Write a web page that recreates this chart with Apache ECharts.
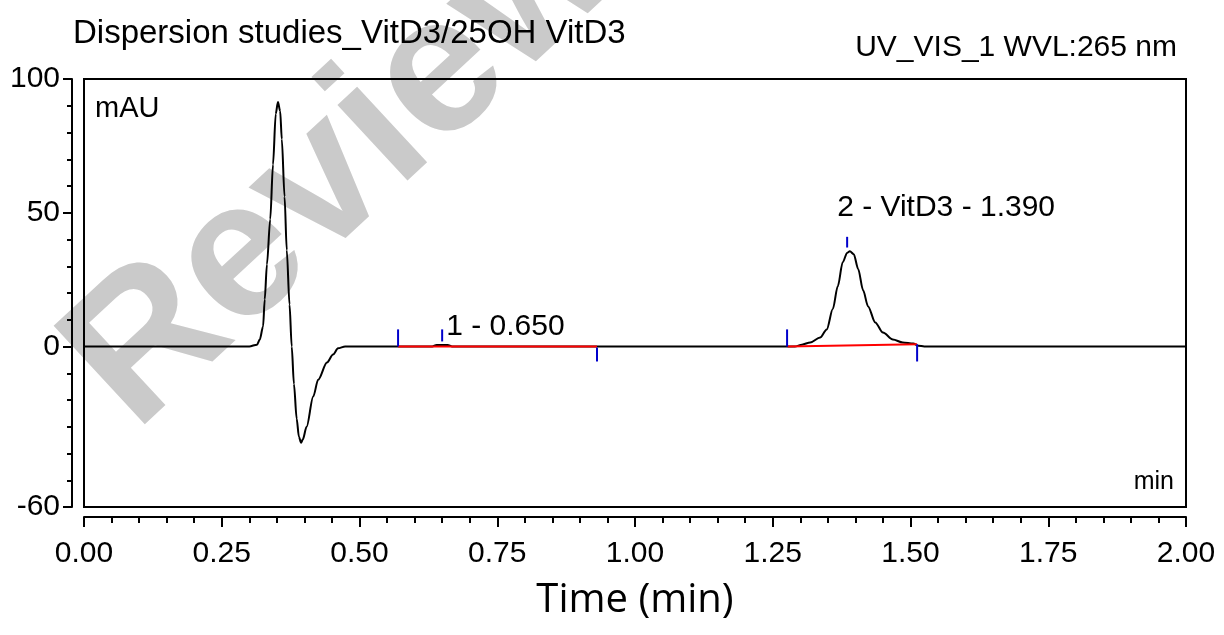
<!DOCTYPE html>
<html>
<head>
<meta charset="utf-8">
<script src="https://cdn.jsdelivr.net/npm/echarts@6/dist/echarts.min.js"></script>
<style>
html, body { margin: 0; padding: 0; background: #fff; }
#main { width: 1224px; height: 635px; }
</style>
</head>
<body>
<div id="main"></div>
<script>
// chromatogram trace, time in min / signal in mAU
var timeMin = [0, 0.300, 0.314, 0.319, 0.325, 0.328, 0.332, 0.338, 0.343, 0.348, 0.352, 0.356, 0.359, 0.364,
    0.368, 0.373, 0.377, 0.381, 0.386, 0.390, 0.394, 0.397, 0.404, 0.416, 0.425, 0.441, 0.452, 0.461, 0.474,
    0.632, 0.640, 0.660, 0.668,
    1.290, 1.303, 1.318, 1.336, 1.348, 1.359, 1.368, 1.377, 1.385, 1.390, 1.397, 1.405, 1.414, 1.423, 1.436,
    1.450, 1.468, 1.486, 1.505, 1.514, 1.525, 2.0];
var signalMau = [0, 0, 0.7, 2.6, 7.5, 17.6, 30.7, 47.6, 68, 87, 91.4, 88, 77.5, 56,
    36, 15.7, 0, -14, -27, -33.7, -36, -34.8, -30, -18.7, -12.4, -6, -3, -0.7, 0,
    0, 0.6, 0.6, 0,
    0, 0.7, 1.5, 3.4, 6.4, 14, 22.5, 31.5, 35, 35.6, 34.5, 29, 21, 15, 9,
    5.2, 2.6, 1.5, 1.1, 0.3, 0, 0];

// integration baselines [t0, v0, t1, v1]
var baselines = [[0.570, 0, 0.931, 0], [1.277, 0, 1.512, 0.8]];
// peak delimiters [t, from, to]
var delimiters = [[0.570, 0, 6.4], [0.650, 1.9, 6.4], [0.931, -0.4, -5.6],
    [1.276, 0, 6.4], [1.385, 37, 41], [1.512, 0.8, -5.6]];
// peak labels [t, value, text]
var peakLabels = [[0.650, 6.4, '1 - 0.650'], [1.385, 41, '2 - VitD3 - 1.390']];

var xMajor = [0, 0.25, 0.5, 0.75, 1.0, 1.25, 1.5, 1.75, 2.0];
var yMajor = [-60, 0, 50, 100];

var font = 'Liberation Sans, Arial, sans-serif';
var myChart = echarts.init(document.getElementById('main'));

var trace = [];
for (var i = 0; i < timeMin.length; i++) {
    trace.push([timeMin[i], signalMau[i]]);
}

var series = [{
    type: 'line',
    name: 'UV_VIS_1',
    data: trace,
    showSymbol: false,
    smooth: 0.3,
    smoothMonotone: 'x',
    lineStyle: { color: '#000', width: 2 },
    z: 3
}];

baselines.forEach(function (b) {
    series.push({
        type: 'line',
        data: [[b[0], b[1]], [b[2], b[3]]],
        showSymbol: false,
        lineStyle: { color: '#ff0000', width: 2 },
        z: 4
    });
});

delimiters.forEach(function (d) {
    series.push({
        type: 'line',
        data: [[d[0], d[1]], [d[0], d[2]]],
        showSymbol: false,
        lineStyle: { color: '#0000cc', width: 2 },
        z: 5
    });
});

series.push({
    type: 'scatter',
    symbolSize: 0,
    itemStyle: { opacity: 1 },
    data: peakLabels.map(function (p, k) {
        return {
            value: [p[0], p[1]],
            label: {
                show: true,
                formatter: p[2],
                position: 'right',
                distance: 0,
                offset: k === 0 ? [4, -3] : [-10, -29],
                fontFamily: font,
                fontSize: 30,
                color: '#000'
            }
        };
    }),
    z: 6
});

var option = {
    animation: false,
    backgroundColor: '#fff',
    title: [{
        text: 'Dispersion studies_VitD3/25OH VitD3',
        left: 68, top: 12,
        textStyle: { fontFamily: font, fontSize: 33, fontWeight: 'normal', color: '#000' }
    }, {
        text: 'UV_VIS_1 WVL:265 nm',
        right: 42, top: 28,
        textStyle: { fontFamily: font, fontSize: 30, fontWeight: 'normal', color: '#000' }
    }],
    graphic: [{
        type: 'text',
        x: 345, y: 165,
        rotation: Math.PI / 4.2,
        z: -10,
        style: {
            text: 'Review',
            font: 'bold 195px Liberation Sans',
            fill: '#cacaca',
            textAlign: 'center',
            textVerticalAlign: 'middle'
        }
    }, {
        type: 'text',
        left: 95, top: 94,
        style: { text: 'mAU', font: '29px Liberation Sans', fill: '#000' }
    }, {
        type: 'text',
        right: 50, top: 470,
        style: { text: 'min', font: '25px Liberation Sans', fill: '#000' }
    }],
    grid: {
        left: 84, top: 79, width: 1102, height: 428,
        show: true,
        borderColor: '#000',
        borderWidth: 2,
        backgroundColor: 'transparent'
    },
    xAxis: [{
        type: 'value',
        min: 0, max: 2, interval: 0.05,
        position: 'bottom',
        offset: 10,
        axisLine: { onZero: false, lineStyle: { color: '#000', width: 2 } },
        axisTick: { length: 6, lineStyle: { color: '#000', width: 2 } },
        axisLabel: { show: false },
        splitLine: { show: false },
        name: 'Time (min)',
        nameLocation: 'middle',
        nameGap: 64,
        nameTextStyle: { fontFamily: 'Open Sans', fontSize: 40, color: '#000' }
    }, {
        type: 'value',
        min: 0, max: 2,
        position: 'bottom',
        offset: 10,
        axisLine: { show: false, onZero: false },
        axisTick: { customValues: xMajor, length: 10, lineStyle: { color: '#000', width: 2 } },
        axisLabel: {
            customValues: xMajor,
            margin: 22,
            fontFamily: font, fontSize: 30, color: '#000',
            formatter: function (v) { return v.toFixed(2); }
        },
        splitLine: { show: false }
    }],
    yAxis: [{
        type: 'value',
        min: -60, max: 100, interval: 10,
        position: 'left',
        offset: 12,
        axisLine: { show: true, onZero: false, lineStyle: { color: '#000', width: 2 } },
        axisTick: { show: true, length: 5, lineStyle: { color: '#000', width: 2 } },
        axisLabel: { show: false },
        splitLine: { show: false }
    }, {
        type: 'value',
        min: -60, max: 100,
        position: 'left',
        offset: 12,
        axisLine: { show: false, onZero: false },
        axisTick: { show: true, customValues: yMajor, length: 9, lineStyle: { color: '#000', width: 2 } },
        axisLabel: {
            customValues: yMajor,
            margin: 12,
            fontFamily: font, fontSize: 30, color: '#000'
        },
        splitLine: { show: false }
    }],
    series: series
};
myChart.setOption(option);
</script>
</body>
</html>
